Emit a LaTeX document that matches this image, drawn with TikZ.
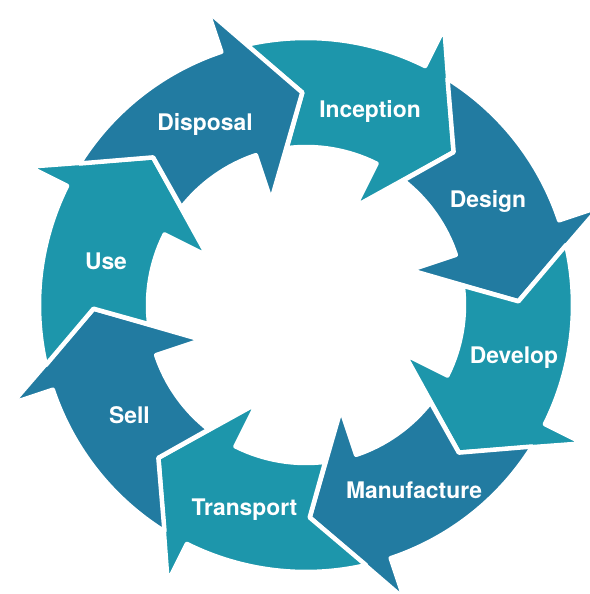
\documentclass[tikz,border=0pt]{standalone}
\usepackage{fontspec}
\setsansfont{TeX Gyre Heros}
\definecolor{cycleTeal}{RGB}{29,150,171}
\definecolor{cycleBlue}{RGB}{34,123,161}
\begin{document}
\begin{tikzpicture}[arrowTeal/.style={fill=cycleTeal, draw=white, line width=0.09cm, line join=round}, arrowBlue/.style={fill=cycleBlue, draw=white, line width=0.09cm, line join=round}, labelStyle/.style={text=white, font=\sffamily\bfseries\fontsize{13}{15}\selectfont, anchor=base}, cycleArrow/.pic={
                    \path[pic actions] (57:5.34) arc[start angle=57, end angle=17.5, radius=5.34] -- (17.5:6.2) -- (0:4.25) -- (17.5:2.2) -- (17.5:3.16) arc[start angle=17.5, end angle=51, radius=3.16] -- (45:4.25) -- cycle;
                }]
                    \path[use as bounding box, clip] (-6.12,-5.78) rectangle (5.68,6.10);
                    % ring of arrows, clockwise
                    \pic[arrowTeal, rotate=  46] (arrow_0) {cycleArrow};
                    \pic[arrowBlue, rotate=   1] (arrow_1) {cycleArrow};
                    \pic[arrowTeal, rotate= -44] (arrow_2) {cycleArrow};
                    \pic[arrowBlue, rotate= -89] (arrow_3) {cycleArrow};
                    \pic[arrowTeal, rotate=-134] (arrow_4) {cycleArrow};
                    \pic[arrowBlue, rotate= 181] (arrow_5) {cycleArrow};
                    \pic[arrowTeal, rotate= 136] (arrow_6) {cycleArrow};
                    \pic[arrowBlue, rotate=  91] (arrow_7) {cycleArrow};
                    % labels
                    \node[labelStyle] (stage_0) at ( 1.28,  3.76) {Inception};
                    \node[labelStyle] (stage_1) at ( 3.64,  1.96) {Design};
                    \node[labelStyle] (stage_2) at ( 4.16, -1.16) {Develop};
                    \node[labelStyle] (stage_3) at ( 2.16, -3.86) {Manufacture};
                    \node[labelStyle] (stage_4) at (-1.23, -4.21) {Transport};
                    \node[labelStyle] (stage_5) at (-3.53, -2.36) {Sell};
                    \node[labelStyle] (stage_6) at (-4.00,  0.72) {Use};
                    \node[labelStyle] (stage_7) at (-2.02,  3.50) {Disposal};
                \end{tikzpicture}
\end{document}
